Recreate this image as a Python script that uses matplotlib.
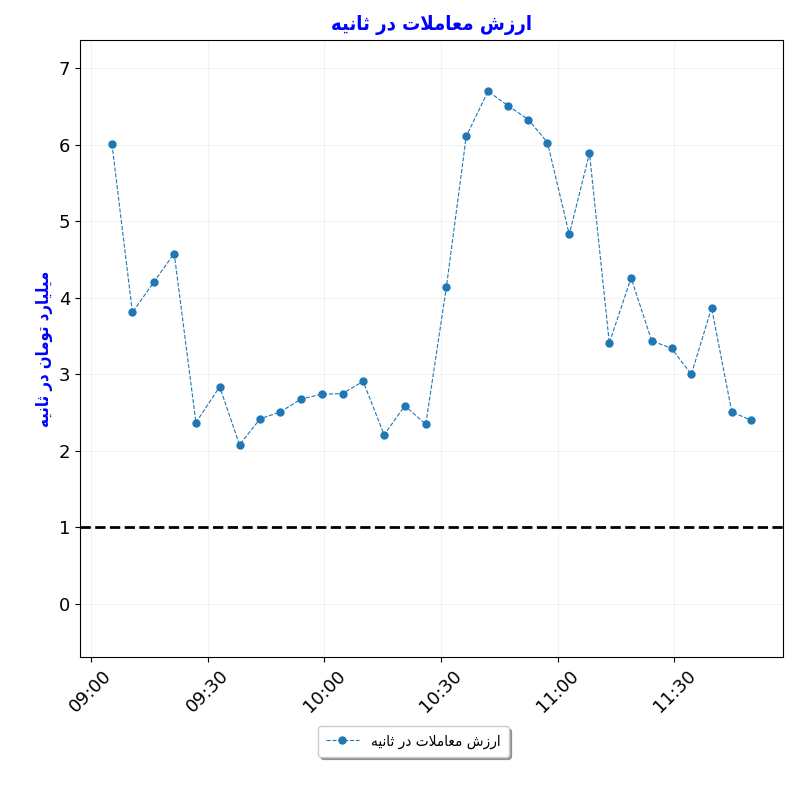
import matplotlib
matplotlib.use("Agg")
import matplotlib.pyplot as plt
import matplotlib.dates as mdates
import pandas as pd

# Persian text, pre-shaped (presentation forms, visual order)
title_fa = "\uFEEA\uFEF4\uFEE7\uFE8E\uFE9B \uFEAD\uFEA9 \uFE95\uFEFC\uFEE3\uFE8E\uFECC\uFEE3 \uFEB5\uFEAF\uFEAD\uFE8D"
ylabel_fa = "\uFEEA\uFEF4\uFEE7\uFE8E\uFE9B \uFEAD\uFEA9 \uFEE5\uFE8E\uFEE3\uFEEE\uFE97 \uFEA9\uFEAD\uFE8E\uFEF4\uFEE0\uFEF4\uFEE3"

times = ["09:05:24", "09:10:40", "09:16:12", "09:21:24", "09:27:00", "09:33:06",
         "09:38:12", "09:43:30", "09:48:42", "09:54:06", "09:59:18", "10:04:42",
         "10:10:00", "10:15:24", "10:20:42", "10:26:06", "10:31:24", "10:36:30",
         "10:42:06", "10:47:18", "10:52:30", "10:57:24", "11:03:00", "11:08:12",
         "11:13:18", "11:18:54", "11:24:12", "11:29:18", "11:34:24", "11:39:36",
         "11:44:48", "11:49:48"]
values = [6.01, 3.81, 4.21, 4.58, 2.37, 2.84, 2.08, 2.42, 2.51, 2.68, 2.74, 2.75,
          2.91, 2.21, 2.59, 2.35, 4.14, 6.11, 6.70, 6.51, 6.33, 6.03, 4.83, 5.89,
          3.41, 4.26, 3.44, 3.34, 3.00, 3.87, 2.51, 2.40]
threshold = 1

t = pd.to_datetime(["2024-01-01 " + s for s in times])

fig = plt.figure(figsize=(8, 8), dpi=100)
ax = fig.add_axes([0.1, 0.179, 0.879, 0.771])
ax.plot(t, values, linestyle='--', linewidth=0.8, marker='o', markersize=5,
        color='tab:blue', label=title_fa)
ax.axhline(threshold, color='black', linestyle='--', linewidth=2)

ax.set_ylim(-0.69, 7.37)
ax.xaxis.set_major_locator(mdates.MinuteLocator(byminute=[0, 30]))
ax.xaxis.set_major_formatter(mdates.DateFormatter('%H:%M'))
ax.tick_params(axis='both', labelsize=13)
plt.setp(ax.get_xticklabels(), rotation=45)
ax.grid(True, color='#dddddd', alpha=0.35, linewidth=0.8)

ax.set_title(title_fa, color='blue', fontsize=14.5, fontweight='bold',
             fontstretch='condensed', pad=7)
ax.set_ylabel(ylabel_fa, color='blue', fontsize=12, fontweight='bold',
              fontstretch='condensed', labelpad=4)

ax.legend(loc='upper center', bbox_to_anchor=(0.474, -0.1), shadow=True,
          prop={'size': 11, 'stretch': 'condensed'}, handlelength=2.2,
          borderpad=0.5)

fig.savefig("out.png", dpi=100)
